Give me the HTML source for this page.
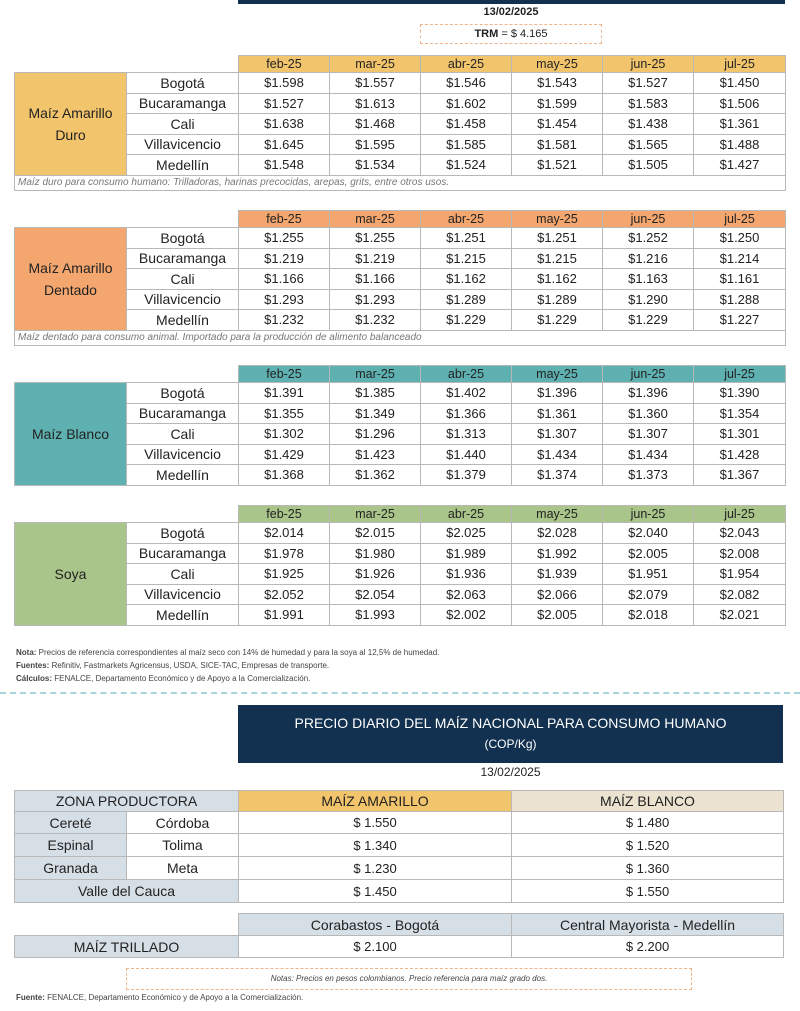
<!DOCTYPE html>
<html><head><meta charset="utf-8"><style>
*{margin:0;padding:0;box-sizing:border-box}
body{width:800px;height:1011px;background:#fff;position:relative;font-family:"Liberation Sans",sans-serif;color:#222;overflow:hidden}
.a{position:absolute}
table{border-collapse:collapse;table-layout:fixed;position:absolute}
td{border:1px solid #b8b8b8;text-align:center;font-size:13px;padding:0;white-space:nowrap;overflow:hidden}
.h td{font-size:12.5px}
.lab{font-size:14px;line-height:22px}
.city{font-size:14px}
.note td{font-style:italic;font-size:10px;color:#777;text-align:left;padding-left:3px}
.e{border:none;background:transparent}
</style></head><body>
<div class="a" style="left:238px;top:0;width:547px;height:4px;background:#12304f"></div>
<div class="a" style="left:420px;top:6px;width:182px;text-align:center;font-size:11px;font-weight:bold">13/02/2025</div>
<div class="a" style="left:420px;top:24px;width:182px;height:20px;border:1px dashed #f0b48a;text-align:center;font-size:11px;line-height:18px"><b>TRM</b> = $ 4.165</div>

<!-- Table 1 -->
<table style="left:14px;top:55px;width:771px">
<colgroup><col style="width:112px"><col style="width:112px"><col style="width:91px"><col style="width:91px"><col style="width:91px"><col style="width:91px"><col style="width:91px"><col style="width:92px"></colgroup>
<tr class="h" style="height:17px;background:#f2c46b"><td class="e" colspan="2" style="background:#fff"></td><td>feb-25</td><td>mar-25</td><td>abr-25</td><td>may-25</td><td>jun-25</td><td>jul-25</td></tr>
<tr style="height:20.5px"><td rowspan="5" class="lab" style="background:#f2c46b">Maíz Amarillo<br>Duro</td><td class="city">Bogotá</td><td>$1.598</td><td>$1.557</td><td>$1.546</td><td>$1.543</td><td>$1.527</td><td>$1.450</td></tr>
<tr style="height:20.5px"><td class="city">Bucaramanga</td><td>$1.527</td><td>$1.613</td><td>$1.602</td><td>$1.599</td><td>$1.583</td><td>$1.506</td></tr>
<tr style="height:20.5px"><td class="city">Cali</td><td>$1.638</td><td>$1.468</td><td>$1.458</td><td>$1.454</td><td>$1.438</td><td>$1.361</td></tr>
<tr style="height:20.5px"><td class="city">Villavicencio</td><td>$1.645</td><td>$1.595</td><td>$1.585</td><td>$1.581</td><td>$1.565</td><td>$1.488</td></tr>
<tr style="height:20.5px"><td class="city">Medellín</td><td>$1.548</td><td>$1.534</td><td>$1.524</td><td>$1.521</td><td>$1.505</td><td>$1.427</td></tr>
<tr class="note" style="height:15px"><td colspan="8">Maíz duro para consumo humano: Trilladoras, harinas precocidas, arepas, grits, entre otros usos.</td></tr>
</table>

<!-- Table 2 -->
<table style="left:14px;top:210px;width:771px">
<colgroup><col style="width:112px"><col style="width:112px"><col style="width:91px"><col style="width:91px"><col style="width:91px"><col style="width:91px"><col style="width:91px"><col style="width:92px"></colgroup>
<tr class="h" style="height:17px;background:#f4a66f"><td class="e" colspan="2" style="background:#fff"></td><td>feb-25</td><td>mar-25</td><td>abr-25</td><td>may-25</td><td>jun-25</td><td>jul-25</td></tr>
<tr style="height:20.5px"><td rowspan="5" class="lab" style="background:#f4a66f">Maíz Amarillo<br>Dentado</td><td class="city">Bogotá</td><td>$1.255</td><td>$1.255</td><td>$1.251</td><td>$1.251</td><td>$1.252</td><td>$1.250</td></tr>
<tr style="height:20.5px"><td class="city">Bucaramanga</td><td>$1.219</td><td>$1.219</td><td>$1.215</td><td>$1.215</td><td>$1.216</td><td>$1.214</td></tr>
<tr style="height:20.5px"><td class="city">Cali</td><td>$1.166</td><td>$1.166</td><td>$1.162</td><td>$1.162</td><td>$1.163</td><td>$1.161</td></tr>
<tr style="height:20.5px"><td class="city">Villavicencio</td><td>$1.293</td><td>$1.293</td><td>$1.289</td><td>$1.289</td><td>$1.290</td><td>$1.288</td></tr>
<tr style="height:20.5px"><td class="city">Medellín</td><td>$1.232</td><td>$1.232</td><td>$1.229</td><td>$1.229</td><td>$1.229</td><td>$1.227</td></tr>
<tr class="note" style="height:15px"><td colspan="8">Maíz dentado para consumo animal. Importado para la producción de alimento balanceado</td></tr>
</table>

<!-- Table 3 -->
<table style="left:14px;top:365px;width:771px">
<colgroup><col style="width:112px"><col style="width:112px"><col style="width:91px"><col style="width:91px"><col style="width:91px"><col style="width:91px"><col style="width:91px"><col style="width:92px"></colgroup>
<tr class="h" style="height:17px;background:#5fb0b0"><td class="e" colspan="2" style="background:#fff"></td><td>feb-25</td><td>mar-25</td><td>abr-25</td><td>may-25</td><td>jun-25</td><td>jul-25</td></tr>
<tr style="height:20.5px"><td rowspan="5" class="lab" style="background:#5fb0b0">Maíz Blanco</td><td class="city">Bogotá</td><td>$1.391</td><td>$1.385</td><td>$1.402</td><td>$1.396</td><td>$1.396</td><td>$1.390</td></tr>
<tr style="height:20.5px"><td class="city">Bucaramanga</td><td>$1.355</td><td>$1.349</td><td>$1.366</td><td>$1.361</td><td>$1.360</td><td>$1.354</td></tr>
<tr style="height:20.5px"><td class="city">Cali</td><td>$1.302</td><td>$1.296</td><td>$1.313</td><td>$1.307</td><td>$1.307</td><td>$1.301</td></tr>
<tr style="height:20.5px"><td class="city">Villavicencio</td><td>$1.429</td><td>$1.423</td><td>$1.440</td><td>$1.434</td><td>$1.434</td><td>$1.428</td></tr>
<tr style="height:20.5px"><td class="city">Medellín</td><td>$1.368</td><td>$1.362</td><td>$1.379</td><td>$1.374</td><td>$1.373</td><td>$1.367</td></tr>
</table>

<!-- Table 4 -->
<table style="left:14px;top:505px;width:771px">
<colgroup><col style="width:112px"><col style="width:112px"><col style="width:91px"><col style="width:91px"><col style="width:91px"><col style="width:91px"><col style="width:91px"><col style="width:92px"></colgroup>
<tr class="h" style="height:17px;background:#a9c58a"><td class="e" colspan="2" style="background:#fff"></td><td>feb-25</td><td>mar-25</td><td>abr-25</td><td>may-25</td><td>jun-25</td><td>jul-25</td></tr>
<tr style="height:20.5px"><td rowspan="5" class="lab" style="background:#a9c58a">Soya</td><td class="city">Bogotá</td><td>$2.014</td><td>$2.015</td><td>$2.025</td><td>$2.028</td><td>$2.040</td><td>$2.043</td></tr>
<tr style="height:20.5px"><td class="city">Bucaramanga</td><td>$1.978</td><td>$1.980</td><td>$1.989</td><td>$1.992</td><td>$2.005</td><td>$2.008</td></tr>
<tr style="height:20.5px"><td class="city">Cali</td><td>$1.925</td><td>$1.926</td><td>$1.936</td><td>$1.939</td><td>$1.951</td><td>$1.954</td></tr>
<tr style="height:20.5px"><td class="city">Villavicencio</td><td>$2.052</td><td>$2.054</td><td>$2.063</td><td>$2.066</td><td>$2.079</td><td>$2.082</td></tr>
<tr style="height:20.5px"><td class="city">Medellín</td><td>$1.991</td><td>$1.993</td><td>$2.002</td><td>$2.005</td><td>$2.018</td><td>$2.021</td></tr>
</table>

<div class="a" style="left:16px;top:646px;font-size:8px;line-height:13px;color:#444">
<div><b>Nota:</b> Precios de referencia correspondientes al maíz seco con 14% de humedad y para la soya al 12,5% de humedad.</div>
<div><b>Fuentes:</b> Refinitiv, Fastmarkets Agricensus, USDA, SICE-TAC, Empresas de transporte.</div>
<div><b>Cálculos:</b> FENALCE, Departamento Económico y de Apoyo a la Comercialización.</div>
</div>
<div class="a" style="left:0;top:692px;width:800px;border-top:2px dashed #a8d4dc"></div>

<div class="a" style="left:238px;top:705px;width:545px;height:58px;background:#12304f;color:#fff;text-align:center;font-size:14px;line-height:20px;padding-top:8px">PRECIO DIARIO DEL MAÍZ NACIONAL PARA CONSUMO HUMANO<br><span style="font-size:12px">(COP/Kg)</span></div>
<div class="a" style="left:238px;top:765px;width:545px;text-align:center;font-size:12px">13/02/2025</div>

<table style="left:14px;top:790px;width:769px">
<colgroup><col style="width:112px"><col style="width:112px"><col style="width:273px"><col style="width:272px"></colgroup>
<tr style="height:21px"><td colspan="2" style="background:#d6dfe6;font-size:14px">ZONA PRODUCTORA</td><td style="background:#f2c46b;font-size:14px">MAÍZ AMARILLO</td><td style="background:#ebe3cf;font-size:14px">MAÍZ BLANCO</td></tr>
<tr style="height:22px"><td style="background:#d6dfe6;font-size:14px">Cereté</td><td style="font-size:14px">Córdoba</td><td>$ 1.550</td><td>$ 1.480</td></tr>
<tr style="height:23px"><td style="background:#d6dfe6;font-size:14px">Espinal</td><td style="font-size:14px">Tolima</td><td>$ 1.340</td><td>$ 1.520</td></tr>
<tr style="height:23px"><td style="background:#d6dfe6;font-size:14px">Granada</td><td style="font-size:14px">Meta</td><td>$ 1.230</td><td>$ 1.360</td></tr>
<tr style="height:23px"><td colspan="2" style="background:#d6dfe6;font-size:14px">Valle del Cauca</td><td>$ 1.450</td><td>$ 1.550</td></tr>
</table>

<table style="left:14px;top:913px;width:769px">
<colgroup><col style="width:224px"><col style="width:273px"><col style="width:272px"></colgroup>
<tr style="height:22px"><td class="e"></td><td style="background:#d6dfe6;font-size:14px">Corabastos - Bogotá</td><td style="background:#d6dfe6;font-size:14px">Central Mayorista - Medellín</td></tr>
<tr style="height:22px"><td style="background:#d6dfe6;font-size:14px">MAÍZ TRILLADO</td><td>$ 2.100</td><td>$ 2.200</td></tr>
</table>

<div class="a" style="left:126px;top:968px;width:566px;height:22px;border:1px dashed #f0b48a;text-align:center;font-size:8px;font-style:italic;line-height:20px;color:#444">Notas: Precios en pesos colombianos. Precio referencia para maíz grado dos.</div>
<div class="a" style="left:16px;top:993px;font-size:8px;color:#444"><b>Fuente:</b> FENALCE, Departamento Económico y de Apoyo a la Comercialización.</div>
</body></html>
